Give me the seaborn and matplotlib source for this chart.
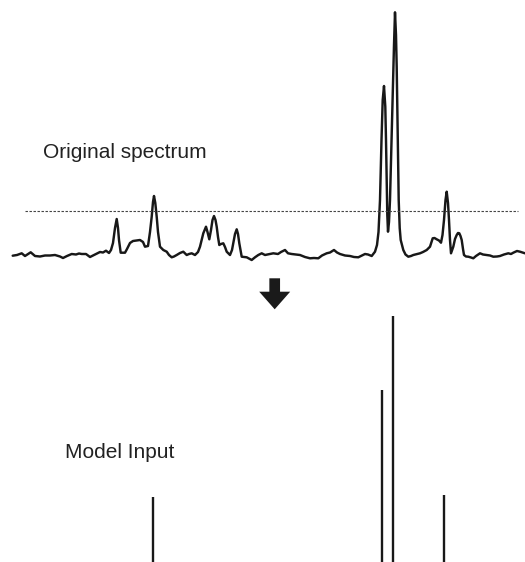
import numpy as np
import pandas as pd
import matplotlib
matplotlib.use("Agg")
import matplotlib.pyplot as plt
from matplotlib.patches import FancyArrow
import seaborn as sns

# Raw spectrum: position along the shift axis and measured intensity
shift = [12.7, 17, 21.7, 25, 28, 30.7, 35, 40, 45, 50, 55, 60, 63, 67, 71.7, 76, 79, 81.7,
         86, 90, 94, 97, 100, 103, 106, 109, 111, 113, 115, 116.7, 118, 119, 120.7, 125,
         127, 130, 133, 135, 140, 143, 145, 148, 150, 151.7, 153, 154, 155.3, 156.7, 158,
         160, 163.3, 166.7, 169, 171.7, 174, 176.7, 180, 183.3, 186.7, 189, 191.7, 195, 198,
         200, 203.3, 206, 207.5, 209.3, 211, 212.5, 214, 215.5, 216.7, 218, 219.3, 221,
         223.3, 225, 226.7, 230, 232, 233.3, 235, 236.7, 238, 239.3, 241.7, 246.7, 249,
         251.7, 255, 258.3, 261.7, 265, 270, 273.3, 278, 281, 285, 288, 291.7, 296, 300,
         305, 310, 314, 318.3, 322, 326.7, 330, 334, 337, 340, 345, 350, 354, 358.3, 362,
         365, 368, 371.7, 375, 377, 378.5, 380, 381.5, 382.7, 384, 385.3, 386, 386.7, 387.3,
         388, 389, 390, 391.3, 392.7, 394, 395, 396, 396.7, 397.7, 398.7, 399.7, 400.7,
         403.3, 405.5, 408.3, 411, 413.3, 417, 420, 423, 426.7, 430, 432.7, 434.5, 436.7,
         439, 441, 442.5, 444, 445.5, 446.7, 448, 449, 450, 451, 452, 453.3, 455, 456.7,
         458, 459.3, 460.5, 461.7, 463, 464, 466, 468.3, 471, 473.3, 476, 480, 483, 486.7,
         490, 493.3, 497, 500, 504, 508.3, 511, 513.3, 517, 520, 525]
intensity = [6.3, 7, 8.7, 6, 8, 9.7, 6, 5.5, 6.5, 6.5, 7, 5.5, 4, 6, 8, 7.5, 8.5, 8,
             8, 5, 7, 8.5, 10, 9.5, 11.3, 9, 12, 19, 34, 43, 34, 22, 9.3, 9.3,
             13, 19, 21, 21.3, 22, 20, 15.3, 16, 30, 45.3, 60, 66, 59, 45.3, 30,
             15.3, 12, 10.3, 7, 4.7, 5.5, 7, 9, 10.3, 7, 8, 8.7, 7, 10,
             15.3, 28.7, 35.3, 30, 22.7, 32, 42, 46, 42, 35.3, 25, 17, 18,
             18.7, 15, 10.3, 7, 12, 18.7, 28, 32.7, 28, 18.7, 5.3, 4.7, 3.5,
             2, 4.7, 7, 8.7, 7, 8, 8.7, 8, 10, 12, 8.7, 8, 7.5, 7,
             5, 3.7, 4, 3.7, 6.5, 8.7, 9.5, 12, 9.5, 8, 6.5, 6, 5, 4.7, 6.5,
             8, 7.5, 6, 10.3, 17, 30, 62, 122, 162, 176, 155.3, 122, 79, 47,
             30.3, 40, 62, 112, 162, 217, 249.7, 227, 195.3, 132, 62, 34, 22,
             12, 7.5, 5.3, 6, 7, 8, 8.7, 10, 12, 15.3, 23.7, 24, 22.7,
             21.5, 19.3, 27, 42, 62, 70.3, 59, 42, 22, 8.7, 11.5, 15.3, 23, 27,
             29, 28.7, 26, 22, 13, 7, 5.5, 5.3, 4.5, 3.7, 6, 8.7, 7.5, 7,
             6.5, 5.3, 5.5, 6, 7.5, 8.7, 8, 9.3, 11, 10.3, 8.7]

# Peak-picking threshold
threshold = 51

# Picked peaks passed on to the model
peak_shift = [153.3, 382, 393.3, 444]
peak_height = [65, 172, 246, 67]

top_label = "Original spectrum"
bottom_label = "Model Input"

sns.set_theme(style="white")
plt.rcParams["font.family"] = ["Liberation Sans", "DejaVu Sans"]

W, H = 525, 562
fig = plt.figure(figsize=(W / 100, H / 100), dpi=100)
ink = "#181818"

# Upper panel: continuous spectrum
ax_top = fig.add_axes([0, (H - 262) / H, 1, 262 / H])
spec = pd.DataFrame({"shift": shift, "intensity": intensity})
sns.lineplot(data=spec, x="shift", y="intensity", ax=ax_top, color=ink,
             linewidth=1.75, estimator=None, sort=False)
ax_top.hlines(threshold, 25, 518, colors="#444444", linewidth=0.8,
              linestyles=(0, (2.2, 1.4)))
ax_top.set_xlim(0, W)
ax_top.set_ylim(0, 262)

# Lower panel: stick representation
ax_bot = fig.add_axes([0, 0, 1, (H - 310) / H])
ax_bot.vlines(peak_shift, 0, peak_height, colors=ink, linewidth=1.7)
ax_bot.set_xlim(0, W)
ax_bot.set_ylim(0, 252)

for ax in (ax_top, ax_bot):
    ax.set_axis_off()

# Overlay for labels and arrow (pixel-like layout coordinates)
ov = fig.add_axes([0, 0, 1, 1])
ov.set_xlim(0, W)
ov.set_ylim(H, 0)
ov.set_axis_off()
ov.patch.set_alpha(0)

ov.text(43, 158, top_label, fontsize=15, color="#222222", va="baseline", ha="left")
ov.text(65, 458.3, bottom_label, fontsize=15, color="#222222", va="baseline", ha="left")

ov.add_patch(FancyArrow(274.7, 278.3, 0, 31, width=10.7, head_width=31,
                        head_length=17.6, length_includes_head=True,
                        color="#1a1a1a", linewidth=0))

fig.savefig("out.png", dpi=100, facecolor="white")
